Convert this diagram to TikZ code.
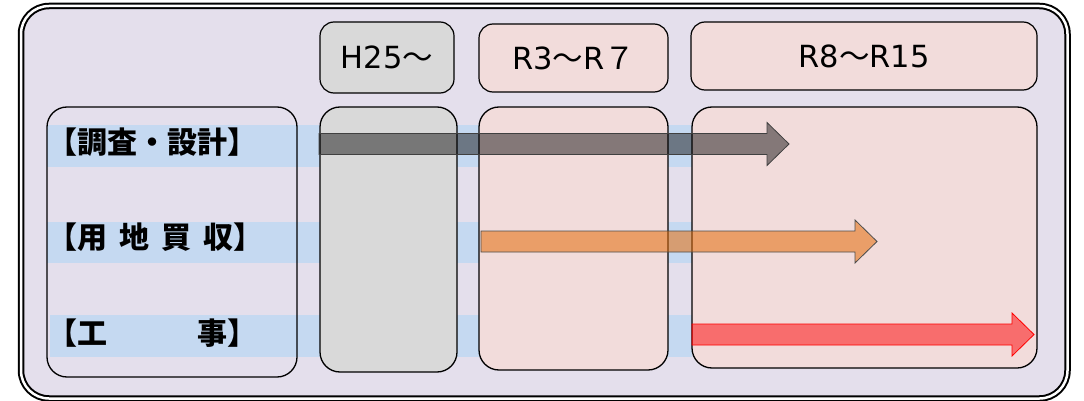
\documentclass[tikz,border=0pt]{standalone}
\usepackage{fontspec}
\setmainfont{DejaVu Sans}
\newfontfamily\jpfont{Noto Sans CJK JP}
\usetikzlibrary{positioning}
\definecolor{bgpurple}{HTML}{E4DFEC}
\definecolor{bandblue}{HTML}{C5D9F1}
\definecolor{colgray}{HTML}{D9D9D9}
\definecolor{colpink}{HTML}{F2DCDB}
\definecolor{arrorange}{HTML}{E46C0A}
\tikzset{
	hdr/.style={
		draw,
		rounded corners=14pt,
		line width=1.2pt,
		inner sep=0pt,
		font=\fontsize{30.5}{36}\selectfont
	},
	col/.style={
		draw,
		rounded corners=20pt,
		line width=1.3pt,
		inner sep=0pt
	},
	rowlbl/.style={
		anchor=west,
		inner sep=0pt,
		font=\jpfont\bfseries\fontsize{30}{36}\selectfont
	},
	blk/.style={
		line width=0.8pt,
		line join=miter
	},
	arrgray/.style={blk, draw=black!75, fill=black, fill opacity=0.45},
	arrorng/.style={blk, draw=black!70, fill=arrorange, fill opacity=0.55},
	arrred/.style={blk, draw=red, fill=red, fill opacity=0.5}
}

\begin{document}
\begin{tikzpicture}[x=1pt, y=-1pt]
		\useasboundingbox (0,0) rectangle (1084,401);
		\draw [double, line width=2pt, double distance=2.5pt, rounded corners=28pt, fill=bgpurple] (21,6) rectangle (1067.5,398.5);
		
		% bands behind the columns
		\foreach \ya/\yb/\xa in {125/167/47, 222/263/47, 315/357/50} {
			\fill [bandblue] (\xa,\ya) rectangle (692,\yb);
		}
		
		\node [col, minimum width=250pt, minimum height=270pt] (lblbox) at (172,242) {};
		\node [col, fill=colgray, minimum width=137pt, minimum height=265pt] (colA) at (388.5,239.5) {};
		\node [col, fill=colpink, minimum width=189pt, minimum height=263pt] (colB) at (573.5,238.5) {};
		\node [col, fill=colpink, minimum width=345pt, minimum height=261pt] (colC) at (864.5,237.5) {};
		
		\node [hdr, fill=colgray, minimum width=134pt, minimum height=71pt] (hdrA) at (387,57.5) {H25{\jpfont ～}};
		\node [hdr, fill=colpink, minimum width=189pt, minimum height=68pt] (hdrB) at (573.5,58) {R3{\jpfont ～}R{\jpfont ７}};
		\node [hdr, fill=colpink, minimum width=346pt, minimum height=68pt] (hdrC) at (864,56) {R8{\jpfont ～}R15};
		
		\foreach \xs/\xe/\yy/\sty in {319/789/144/arrgray, 481/877/241.5/arrorng, 692/1034/334.5/arrred} {
			\draw [\sty] (\xs,\yy-10.5) -- (\xe-22,\yy-10.5) -- (\xe-22,\yy-21.5) -- (\xe,\yy)
				-- (\xe-22,\yy+21.5) -- (\xe-22,\yy+10.5) -- (\xs,\yy+10.5) -- cycle;
		}
		
		\node [rowlbl] (lblsurvey) at (47,142.5) {【調査・設計】};
		\node [rowlbl] (lblland) at (47,237.5) {【用\hspace{.4em}地\hspace{.4em}買\hspace{.4em}収】};
		\node [rowlbl] (lblwork) at (47,333.5) {【工　　　事】};
\end{tikzpicture}
\end{document}
